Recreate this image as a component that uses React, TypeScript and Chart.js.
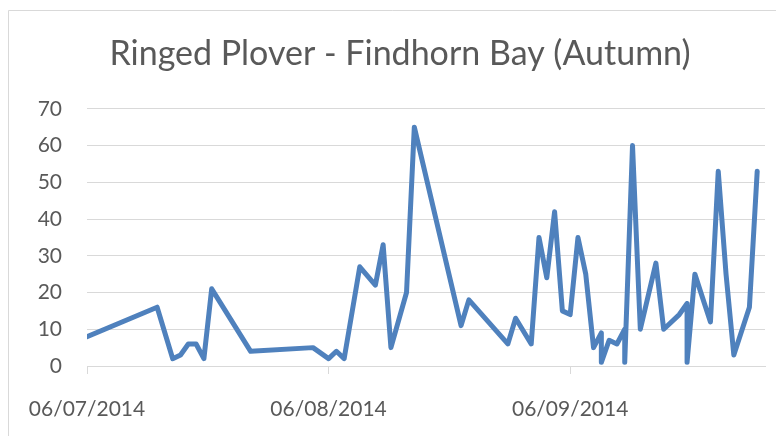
import React, { useEffect, useRef } from "react";
import { Chart, registerables } from "chart.js";

Chart.register(...registerables);

const chartTitle = "Ringed Plover - Findhorn Bay (Autumn)";

const countDates = [
  "2014-07-06", "2014-07-15", "2014-07-17", "2014-07-18", "2014-07-19", "2014-07-20",
  "2014-07-21", "2014-07-22", "2014-07-27", "2014-08-04", "2014-08-06", "2014-08-07",
  "2014-08-08", "2014-08-10", "2014-08-12", "2014-08-13", "2014-08-14", "2014-08-16",
  "2014-08-17", "2014-08-23", "2014-08-24", "2014-08-29", "2014-08-30", "2014-09-01",
  "2014-09-02", "2014-09-03", "2014-09-04", "2014-09-05", "2014-09-06", "2014-09-07",
  "2014-09-08", "2014-09-09", "2014-09-10", "2014-09-10", "2014-09-11", "2014-09-12",
  "2014-09-13", "2014-09-13", "2014-09-14", "2014-09-15", "2014-09-17", "2014-09-18",
  "2014-09-20", "2014-09-21", "2014-09-21", "2014-09-22", "2014-09-24", "2014-09-25",
  "2014-09-26", "2014-09-27", "2014-09-29", "2014-09-30",
];

const birdCounts = [
  8, 16, 2, 3, 6, 6,
  2, 21, 4, 5, 2, 4,
  2, 27, 22, 33, 5, 20,
  65, 11, 18, 6, 13, 6,
  35, 24, 42, 15, 14, 35,
  25, 5, 9, 1, 7, 6,
  10, 1, 60, 10, 28, 10,
  14, 17, 1, 25, 12, 53,
  25, 3, 16, 53,
];

const axisStartDate = "2014-07-06";
const axisEndDate = "2014-10-01";
const xTickDates = ["2014-07-06", "2014-08-06", "2014-09-06"];
const xTickLabels = ["06/07/2014", "06/08/2014", "06/09/2014"];

const yMin = 0;
const yMax = 70;
const yStep = 10;

function dayNumber(s: string): number {
  const [y, m, d] = s.split("-").map(Number);
  const [y0, m0, d0] = axisStartDate.split("-").map(Number);
  return (Date.UTC(y, m - 1, d) - Date.UTC(y0, m0 - 1, d0)) / 86400000;
}

const FONT = "Lato, 'Open Sans', sans-serif";
const TEXT = "#595959";
const GRID = "#d9d9d9";

const framePlugin = {
  id: "frame",
  beforeDraw(chart: any) {
    const ctx = chart.ctx;
    ctx.save();
    ctx.fillStyle = "#ffffff";
    ctx.fillRect(0, 0, chart.width, chart.height);
    ctx.strokeStyle = GRID;
    ctx.lineWidth = 1;
    ctx.beginPath();
    ctx.moveTo(8.5, chart.height + 5);
    ctx.lineTo(8.5, 10.5);
    ctx.lineTo(chart.width + 5, 10.5);
    ctx.stroke();
    ctx.restore();
  },
};

export default function App() {
  const canvasRef = useRef<HTMLCanvasElement | null>(null);

  useEffect(() => {
    if (!canvasRef.current) return;
    const points = countDates.map((d, i) => ({ x: dayNumber(d), y: birdCounts[i] }));
    const tickValues = xTickDates.map(dayNumber);

    const chart = new Chart(canvasRef.current, {
      type: "line",
      data: {
        datasets: [
          {
            label: "Ringed Plover",
            data: points,
            borderColor: "#4f81bd",
            backgroundColor: "#4f81bd",
            borderWidth: 5,
            borderJoinStyle: "round",
            borderCapStyle: "round",
            pointRadius: 0,
            pointHoverRadius: 0,
            tension: 0,
            fill: false,
          },
        ],
      },
      options: {
        responsive: false,
        animation: false,
        devicePixelRatio: 1,
        layout: { padding: { left: 35, right: 11, top: 0, bottom: 0 } },
        plugins: {
          legend: { display: false },
          tooltip: { enabled: false },
          title: {
            display: true,
            text: chartTitle,
            color: TEXT,
            font: { family: FONT, size: 34, weight: "normal" },
            padding: { top: 34, bottom: 34 },
          },
        },
        scales: {
          x: {
            type: "linear",
            min: dayNumber(axisStartDate),
            max: dayNumber(axisEndDate),
            afterBuildTicks: (scale: any) => {
              scale.ticks = tickValues.map((v) => ({ value: v }));
            },
            afterFit: (scale: any) => {
              scale.height = 70;
            },
            ticks: {
              autoSkip: false,
              maxRotation: 0,
              minRotation: 0,
              color: TEXT,
              padding: 23,
              font: { family: FONT, size: 21 },
              callback: (value: any) => {
                const idx = tickValues.indexOf(Number(value));
                return idx >= 0 ? xTickLabels[idx] : "";
              },
            },
            grid: {
              display: true,
              drawOnChartArea: false,
              drawTicks: true,
              tickLength: 8,
              color: GRID,
              lineWidth: 1,
            },
            border: { display: true, color: GRID, width: 1 },
          },
          y: {
            min: yMin,
            max: yMax,
            afterFit: (scale: any) => {
              scale.width = 52;
            },
            ticks: {
              stepSize: yStep,
              color: TEXT,
              padding: 25,
              font: { family: FONT, size: 21 },
            },
            grid: {
              color: GRID,
              lineWidth: 1,
              drawTicks: false,
            },
            border: { display: false },
          },
        },
      },
      plugins: [framePlugin],
    } as any);

    return () => chart.destroy();
  }, []);

  return (
    <div style={{ position: "fixed", left: 0, top: 0, width: 776, height: 436, overflow: "hidden", background: "#fff" }}>
      <canvas ref={canvasRef} width={776} height={436} style={{ display: "block" }} />
    </div>
  );
}
